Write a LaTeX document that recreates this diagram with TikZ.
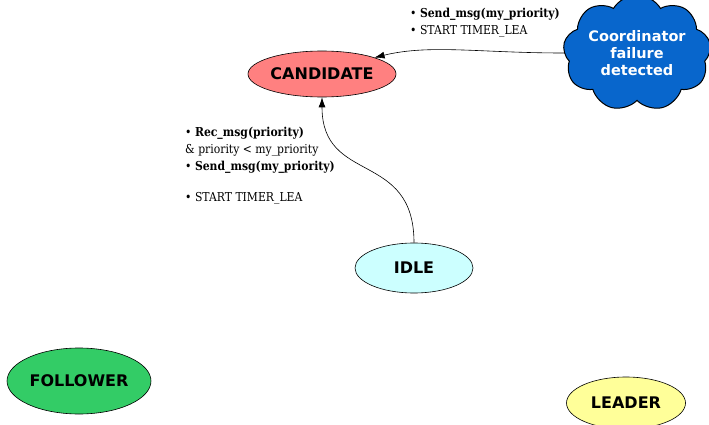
\documentclass[tikz,border=0pt]{standalone}
\usepackage{fontspec}
\setmainfont{DejaVu Serif}[FakeStretch=0.88]
\newfontfamily\nodefont{DejaVu Sans}
\usetikzlibrary{shapes.geometric,shapes.symbols,arrows.meta}
\definecolor{candfill}{HTML}{FF8080}
\definecolor{idlefill}{HTML}{CCFFFF}
\definecolor{follfill}{HTML}{33CC66}
\definecolor{leadfill}{HTML}{FFFF99}
\definecolor{cloudfill}{HTML}{0866CC}
\tikzset{
  statenode/.style={ellipse, draw=black, line width=0.6pt, inner sep=0pt,
    font=\nodefont\bfseries\fontsize{16}{18}\selectfont},
  trans/.style={draw=black, line width=0.6pt, -{Latex[length=10pt,width=7pt]}},
  lbl/.style={align=left, anchor=north west, inner sep=0pt,
    font=\fontsize{12.3}{17}\selectfont},
}
\begin{document}
\begin{tikzpicture}[x=1pt,y=-1pt]
\useasboundingbox (0,0) rectangle (709,425);
\node[statenode, fill=candfill, minimum width=148pt, minimum height=46pt] (cand) at (322,74) {CANDIDATE};
\node[statenode, fill=idlefill, minimum width=118pt, minimum height=50pt] (idle) at (414,268) {IDLE};
\node[statenode, fill=follfill, minimum width=144pt, minimum height=66pt] (foll) at (79,381) {FOLLOWER};
\node[statenode, fill=leadfill, minimum width=119pt, minimum height=52pt] (lead) at (626,403) {LEADER};
\node[cloud, cloud puffs=9, cloud puff arc=120, aspect=1.45, draw=black, line width=1pt,
  fill=cloudfill, text=white, align=center, inner sep=0pt, minimum width=140pt, minimum height=94pt,
  font=\nodefont\bfseries\fontsize{14.5}{17}\selectfont] (cloud) at (637,53) {Coordinator\\failure\\detected};
\draw[trans] (cloud.west) .. controls (480,53) and (430,44) .. (cand.north east);
\draw[trans] (idle.north) .. controls (414,150) and (322,185) .. (cand.south);
\node[lbl] (l1) at (410,8) {• \textbf{Send\_msg(my\_priority)}\\• START TIMER\_LEA};
\node[lbl] (l2) at (185,127) {• \textbf{Rec\_msg(priority)}\\\& priority < my\_priority\\• \textbf{Send\_msg(my\_priority)}\\[14pt]• START TIMER\_LEA};
\end{tikzpicture}
\end{document}
